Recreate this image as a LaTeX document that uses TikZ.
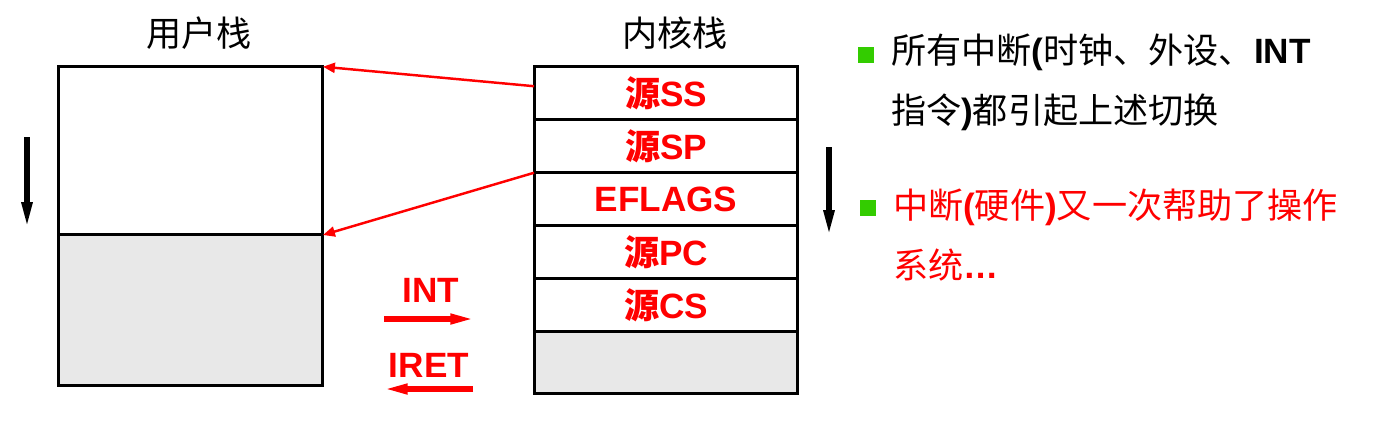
\documentclass[tikz,border=0pt]{standalone}
\usepackage{fontspec}
\setmainfont{Liberation Sans}
\newfontfamily\cjk{Noto Sans CJK SC}
\usetikzlibrary{positioning, arrows.meta}
\definecolor{slotgray}{RGB}{232,232,232}
\definecolor{bulletgreen}{RGB}{51,204,0}

\begin{document}
\begin{tikzpicture}[x=0.02cm, y=-0.02cm,
    every node/.style={font=\fontsize{20}{34}\selectfont, inner sep=0pt, outer sep=0pt},
    slot/.style={draw, line width=1.7pt, minimum width=5.28cm, minimum height=1.061cm, text=red, font=\fontsize{20}{24}\selectfont\bfseries},
    ubox/.style={draw, line width=1.7pt, minimum width=5.3cm},
    bullet/.style={fill=bulletgreen, minimum size=0.31cm},
    thinarrow/.style={-{Triangle[length=6.8pt, width=5.7pt]}, line width=1.4pt, red},
    flowarrow/.style={-{Triangle[length=14pt, width=5.4pt]}, line width=3pt, red},
    downarrow/.style={-{Triangle[length=14.7pt, width=5.7pt]}, line width=3pt, black},
    flowlabel/.style={text=red, font=\fontsize{20}{24}\selectfont\bfseries}]
    \useasboundingbox (0,0) rectangle (1373,427);

    % User stack
    \node (utitle) at (199,33) {\cjk 用户栈};
    \node[ubox, minimum height=3.366cm] (ufree) at (190.5,150.85) {};
    \node[ubox, minimum height=3.014cm, fill=slotgray, below=0pt of ufree] (uused) {};

    % Kernel stack
    \node (ktitle) at (675,33) {\cjk 内核栈};
    \node[slot] (ss) at (666,93.2) {{\cjk 源}SS};
    \node[slot, below=0pt of ss] (sp) {{\cjk 源}SP};
    \node[slot, below=0pt of sp] (eflags) {EFLAGS};
    \node[slot, below=0pt of eflags] (pc) {{\cjk 源}PC};
    \node[slot, below=0pt of pc] (cs) {{\cjk 源}CS};
    \node[slot, fill=slotgray, minimum height=1.24cm, below=0pt of cs] (kused) {};

    % Values copied back to the user stack
    \draw[thinarrow] ([yshift=0.14cm]ss.west) -- (ufree.north east);
    \draw[thinarrow] (sp.south west) -- (ufree.south east);

    % Growth direction of both stacks
    \coordinate (ugrow0) at (27,137);
    \coordinate (ugrow1) at (27,228);
    \draw[downarrow] (ugrow0) -- (ugrow1);
    \coordinate (kgrow0) at (829,147);
    \coordinate (kgrow1) at (829,236);
    \draw[downarrow] (kgrow0) -- (kgrow1);

    % INT and IRET
    \node[flowlabel] (int) at (431,290) {INT};
    \coordinate (int0) at (384,319);
    \coordinate (int1) at (475,319);
    \draw[flowarrow] (int0) -- (int1);
    \node[flowlabel] (iret) at (429,365) {IRET};
    \coordinate (iret0) at (473,389);
    \coordinate (iret1) at (383,389);
    \draw[flowarrow] (iret0) -- (iret1);

    % Notes
    \node[bullet] (b1) at (866,55) {};
    \node[anchor=west, align=left] (note1) at (891,82)
        {{\cjk 所有中断}\textbf{(}{\cjk 时钟、外设、}\textbf{INT}\\{\cjk 指令}\textbf{)}{\cjk 都引起上述切换}};
    \node[bullet] (b2) at (868,208) {};
    \node[anchor=west, align=left, text=red] (note2) at (893,235)
        {{\cjk 中断}\textbf{(}{\cjk 硬件}\textbf{)}{\cjk 又一次帮助了操作}\\{\cjk 系统}\textbf{…}};
\end{tikzpicture}
\end{document}
